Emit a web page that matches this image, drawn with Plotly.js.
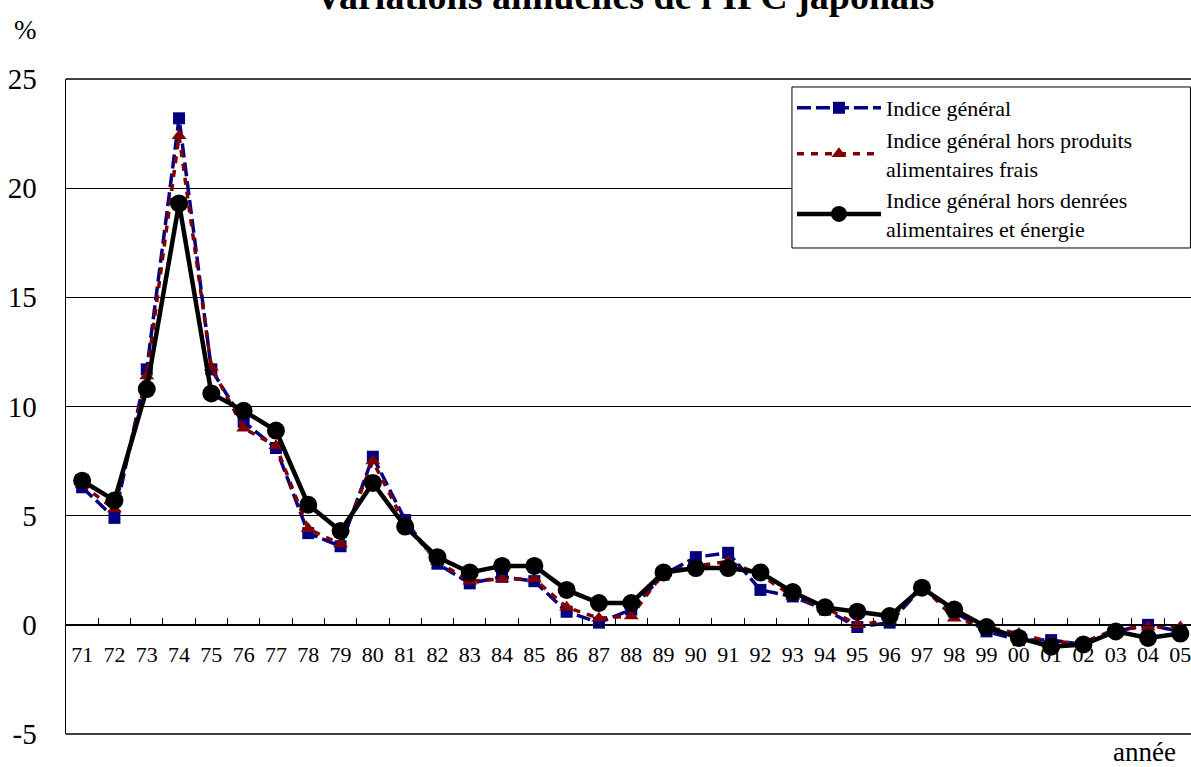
<!DOCTYPE html>
<html>
<head>
<meta charset="utf-8">
<script src="https://cdn.plot.ly/plotly-3.0.1.min.js"></script>
<style>
html, body { margin: 0; padding: 0; overflow: hidden; background: #fff; }
#chart { width: 1191px; height: 767px; }
</style>
</head>
<body>
<div id="chart"></div>
<script>
var years = ["71","72","73","74","75","76","77","78","79","80","81","82","83","84","85","86","87","88","89","90","91","92","93","94","95","96","97","98","99","00","01","02","03","04","05"];

var indiceGeneral = [6.3,4.9,11.7,23.2,11.7,9.3,8.1,4.2,3.6,7.7,4.8,2.8,1.9,2.2,2.0,0.6,0.1,0.7,2.3,3.1,3.3,1.6,1.3,0.7,-0.1,0.1,1.7,0.6,-0.3,-0.7,-0.7,-0.9,-0.3,0.0,-0.3];

var horsFrais = [6.4,5.3,11.4,22.4,11.8,9.0,8.2,4.4,3.7,7.5,4.6,2.9,2.0,2.1,2.1,0.8,0.3,0.4,2.4,2.7,2.9,2.3,1.3,0.8,0.0,0.2,1.8,0.3,-0.1,-0.4,-0.8,-0.8,-0.2,-0.1,-0.1];

var horsDenrees = [6.6,5.7,10.8,19.3,10.6,9.8,8.9,5.5,4.3,6.5,4.5,3.1,2.4,2.7,2.7,1.6,1.0,1.0,2.4,2.6,2.6,2.4,1.5,0.8,0.6,0.4,1.7,0.7,-0.1,-0.6,-1.0,-0.9,-0.3,-0.6,-0.4];

var yTicks = [-5, 0, 5, 10, 15, 20, 25];

var seriesNames = [
  "Indice général",
  "Indice général hors produits<br>alimentaires frais",
  "Indice général hors denrées<br>alimentaires et énergie"
];

var serif = "Liberation Serif";

var traces = [
  {
    x: years, y: indiceGeneral, name: seriesNames[0], type: "scatter", mode: "lines+markers",
    line: { color: "#000080", width: 3.5, dash: "14px,5px" },
    marker: { symbol: "square", size: 12, color: "#000080" }
  },
  {
    x: years, y: horsFrais, name: seriesNames[1], type: "scatter", mode: "lines+markers",
    line: { color: "#800000", width: 3.5, dash: "7px,7px" },
    marker: { symbol: "triangle-up", size: 13, color: "#800000" }
  },
  {
    x: years, y: horsDenrees, name: seriesNames[2], type: "scatter", mode: "lines+markers",
    line: { color: "#000000", width: 4.5 },
    marker: { symbol: "circle", size: 18, color: "#000000" }
  }
];

var layout = {
  width: 1191, height: 767,
  margin: { l: 66, r: 0, t: 79, b: 33 },
  paper_bgcolor: "#ffffff", plot_bgcolor: "#ffffff",
  font: { family: serif, color: "#000000" },
  showlegend: true,
  legend: {
    x: 0.6453, y: 0.9878, xanchor: "left", yanchor: "top",
    bgcolor: "rgba(0,0,0,0)", borderwidth: 0,
    font: { family: serif, size: 22, color: "#000000" },
    itemwidth: 84, tracegroupgap: 4
  },
  xaxis: {
    type: "category",
    range: [-0.5, 34.33],
    anchor: "free", position: 1/6,
    showline: true, linecolor: "#000000", linewidth: 1.5,
    ticks: "inside", ticklen: 7, tickwidth: 1, tickcolor: "#000000",
    tickson: "boundaries",
    ticklabelstandoff: 9,
    showgrid: false, zeroline: false,
    tickfont: { family: serif, size: 22, color: "#000000" },
    fixedrange: true
  },
  yaxis: {
    range: [-5, 25],
    tickvals: yTicks, ticktext: yTicks.map(String),
    showline: true, linecolor: "#000000", linewidth: 1.5,
    showgrid: true, gridcolor: "#000000", gridwidth: 1,
    zeroline: false,
    ticks: "", ticklabelstandoff: 22,
    tickfont: { family: serif, size: 29, color: "#000000" },
    fixedrange: true
  },
  shapes: [
    { type: "line", xref: "paper", yref: "paper", x0: 0, x1: 1, y0: 0, y1: 0, line: { color: "#000000", width: 1.5 } },
    { type: "line", xref: "paper", yref: "paper", x0: 0, x1: 1, y0: 1, y1: 1, line: { color: "#000000", width: 1.5 } },
    { type: "rect", xref: "paper", yref: "paper", layer: "above", x0: 0.6453, x1: 0.9995, y0: 0.742, y1: 0.9878,
      fillcolor: "#ffffff", line: { color: "#000000", width: 1 } }
  ],
  annotations: [
    { text: "<b>Variations annuelles de l'IPC japonais</b>", xref: "paper", yref: "paper", x: 0.496, y: 1,
      xanchor: "center", yanchor: "bottom", yshift: 60, showarrow: false,
      font: { family: serif, size: 38, color: "#000000" } },
    { text: "%", xref: "paper", yref: "paper", x: -0.0364, y: 1, xanchor: "center", yanchor: "middle",
      yshift: 49, showarrow: false, font: { family: serif, size: 27, color: "#000000" } },
    { text: "année", xref: "paper", yref: "paper", x: 0.9591, y: 0, xanchor: "center", yanchor: "middle",
      yshift: -18, showarrow: false, font: { family: serif, size: 27, color: "#000000" } }
  ]
};

Plotly.newPlot("chart", traces, layout, { displayModeBar: false, staticPlot: true });
</script>
</body>
</html>
